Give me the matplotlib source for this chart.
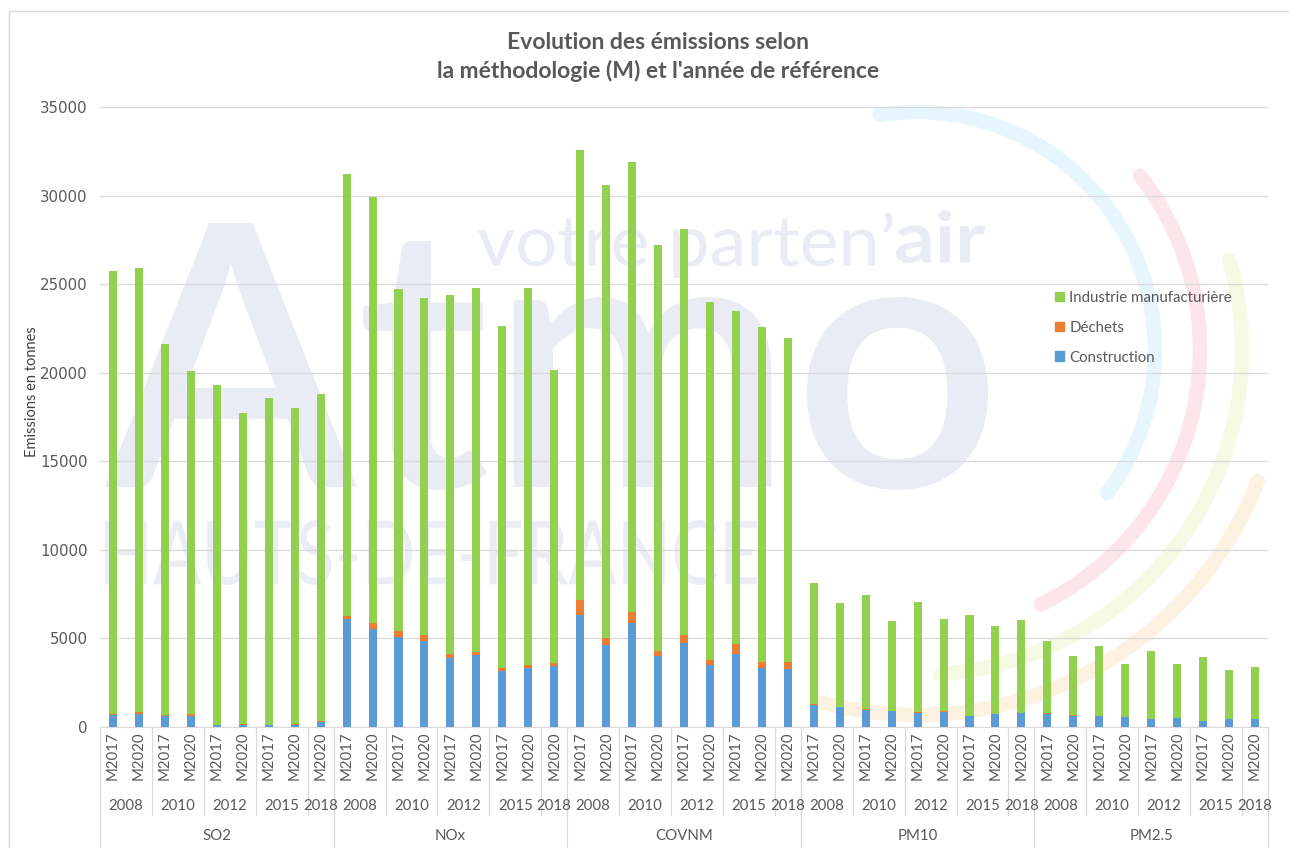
import numpy as np
import matplotlib
matplotlib.use("Agg")
import matplotlib.pyplot as plt
from matplotlib.patches import Arc, PathPatch, Rectangle, Patch
from matplotlib.textpath import TextPath
from matplotlib.font_manager import FontProperties
from matplotlib.transforms import Affine2D

# data (tonnes)
pollutants = ["SO2", "NOx", "COVNM", "PM10", "PM2.5"]
years = ["2008", "2010", "2012", "2015", "2018"]
methods = ["M2017", "M2020", "M2017", "M2020", "M2017", "M2020", "M2017", "M2020", "M2020"]
bars_per_year = [2, 2, 2, 2, 1]

construction = {
    "SO2":   [680, 750, 600, 640, 113, 113, 113, 113, 300],
    "NOx":   [6100, 5510, 5080, 4850, 3910, 4050, 3140, 3330, 3460],
    "COVNM": [6320, 4610, 5890, 3990, 4740, 3500, 4140, 3330, 3270],
    "PM10":  [1240, 1130, 980, 920, 790, 850, 600, 730, 790],
    "PM2.5": [750, 640, 600, 550, 450, 510, 320, 450, 450],
}
dechets = {
    "SO2":   [40, 100, 80, 110, 10, 77, 10, 77, 50],
    "NOx":   [190, 340, 340, 340, 230, 180, 190, 150, 150],
    "COVNM": [870, 430, 600, 300, 450, 260, 530, 340, 400],
    "PM10":  [60, 15, 10, 10, 80, 50, 10, 10, 10],
    "PM2.5": [40, 10, 10, 10, 10, 10, 10, 10, 10],
}
industrie = {
    "SO2":   [25030, 25040, 20920, 19320, 19180, 17560, 18470, 17840, 18450],
    "NOx":   [24910, 24090, 19280, 19010, 20260, 20570, 19320, 21320, 16540],
    "COVNM": [25380, 25540, 25390, 22930, 22910, 20240, 18800, 18890, 18270],
    "PM10":  [6830, 5840, 6440, 5050, 6170, 5180, 5710, 4960, 5240],
    "PM2.5": [4050, 3340, 3960, 3000, 3810, 3040, 3600, 2760, 2940],
}

c_green = "#92d050"
c_orange = "#ed7d31"
c_blue = "#5b9bd5"
txt_col = "#595959"
W, H = 1289, 848

fig = plt.figure(figsize=(W / 100, H / 100), dpi=100)

# background layer in pixel coordinates (watermark + frame)
bg = fig.add_axes([0, 0, 1, 1], zorder=0)
bg.set_xlim(0, W)
bg.set_ylim(H, 0)
bg.axis("off")
bg.add_patch(Rectangle((9, 11), W, H, fill=False, ec="#d9d9d9", lw=1))


def put_text(s, box, color, weight="normal"):
    # stretch a text path into a pixel box (x0, top, x1, bottom)
    tp = TextPath((0, 0), s, size=100, prop=FontProperties(family="Lato", weight=weight))
    e = tp.get_extents()
    x0, y0, x1, y1 = box
    tr = Affine2D().translate(-e.x0, -e.y0).scale((x1 - x0) / e.width, -(y1 - y0) / e.height).translate(x0, y1)
    bg.add_patch(PathPatch(tr.transform_path(tp), fc=color, ec="none"))


wm = "#e9ebf5"
put_text("Atmo", (105, 223, 988, 490), wm, "semibold")
put_text("votre parten\u2019", (478, 212, 892, 278), wm, "normal")
put_text("air", (896, 210, 985, 263), wm, "bold")
put_text("HAUTS-DE-FRANCE", (105, 520, 757, 585), "#ebedf6", "normal")

cx, cy = 917, 350
for r, t1, t2, col in [(238, -99, 37, "#e7f5fc"), (283, -38, 64, "#fce5eb"),
                       (325, -16, 86, "#f6f9e4"), (365, 21, 105, "#fdf2e2")]:
    bg.add_patch(Arc((cx, cy), 2 * r, 2 * r, theta1=t1, theta2=t2, color=col,
                     lw=10.5, capstyle="round"))

# main chart
ax = fig.add_axes([100 / W, 1 - 727 / H, 1168 / W, 620 / H], zorder=1)
ax.set_facecolor("none")

n = len(methods)
width = 0.31
for i, p in enumerate(pollutants):
    x = np.arange(n) + i * n
    b = np.array(construction[p])
    d = np.array(dechets[p])
    g = np.array(industrie[p])
    ax.bar(x, b, width, color=c_blue, zorder=3)
    ax.bar(x, d, width, bottom=b, color=c_orange, zorder=3)
    ax.bar(x, g, width, bottom=b + d, color=c_green, zorder=3)

ax.set_xlim(-0.5, n * len(pollutants) - 0.5)
ax.set_ylim(0, 35000)
ax.set_yticks(np.arange(0, 35001, 5000))
ax.tick_params(axis="y", length=0, pad=9, labelsize=10.8, labelcolor=txt_col)
ax.set_xticks([])
ax.yaxis.grid(True, color="#d9d9d9", lw=0.9)
ax.set_axisbelow(True)
for s in ["left", "right", "top"]:
    ax.spines[s].set_visible(False)
ax.spines["bottom"].set_color("#d9d9d9")

# multi-level category axis
tr = ax.get_xaxis_transform()
ph = 620.0
y_m = -4 / ph
y_year = -(806 - 727) / ph
y_pol = -(836 - 727) / ph
y_yline = -(815 - 727) / ph
y_pline = -(848 - 727) / ph
lab_font = dict(color=txt_col, fontsize=10.8, family="Lato")
for i, p in enumerate(pollutants):
    start = i * n
    for k, m in enumerate(methods):
        ax.text(start + k, y_m, m, transform=tr, rotation=90, ha="center", va="top", **lab_font)
    pos = start
    for yr, cnt in zip(years, bars_per_year):
        ax.text(pos + (cnt - 1) / 2, y_year, yr, transform=tr, ha="center", va="center", **lab_font)
        if pos > start:
            ax.plot([pos - 0.5, pos - 0.5], [0, y_yline], transform=tr, color="#d9d9d9", lw=0.9, clip_on=False)
        pos += cnt
    ax.text(start + (n - 1) / 2, y_pol, p, transform=tr, ha="center", va="center", **lab_font)
    ax.plot([start - 0.5, start - 0.5], [0, y_pline], transform=tr, color="#d9d9d9", lw=0.9, clip_on=False)
ax.plot([n * len(pollutants) - 0.5] * 2, [0, y_pline], transform=tr, color="#d9d9d9", lw=0.9, clip_on=False)

fig.text(32 / W, 1 - 392 / H, "Emissions en tonnes", rotation=90, ha="center", va="center",
         color="#404040", fontsize=10.5, family="Lato")
fig.text(658 / W, 1 - 57 / H, "Evolution des émissions selon\nla méthodologie (M) et l'année de référence",
         ha="center", va="center", color=txt_col, fontsize=16.5, fontweight="bold", family="Lato",
         linespacing=1.42)

handles = [Patch(color=c_green), Patch(color=c_orange), Patch(color=c_blue)]
labels = ["Industrie manufacturière", "Déchets", "Construction"]
leg = fig.legend(handles, labels, loc="upper left", bbox_to_anchor=(1055 / W, 1 - 291 / H),
                 frameon=False, handlelength=0.6, handleheight=0.6, handletextpad=0.35,
                 labelspacing=1.05, borderpad=0, borderaxespad=0,
                 prop=FontProperties(family="Lato", size=10.8))
for t in leg.get_texts():
    t.set_color(txt_col)

fig.savefig("out.png", dpi=100)
